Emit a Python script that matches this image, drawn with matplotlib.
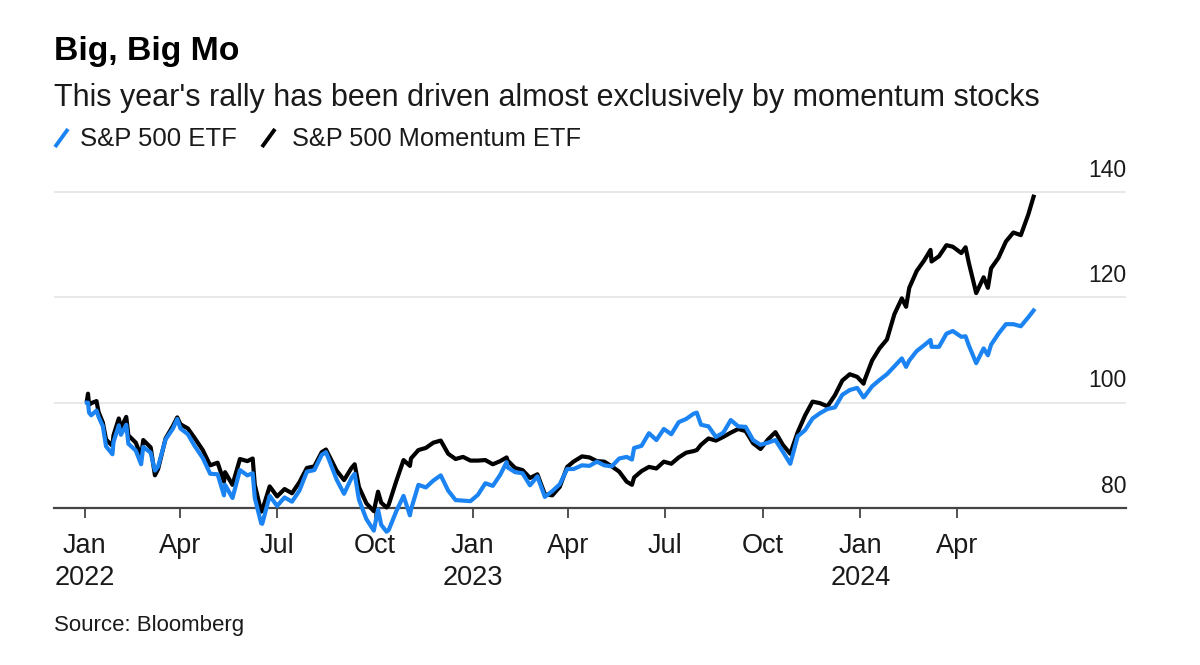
import matplotlib
matplotlib.use("Agg")
import matplotlib.pyplot as plt
from matplotlib.lines import Line2D
import pandas as pd

plt.rcParams['font.family'] = ['Liberation Sans', 'DejaVu Sans']

# ---------------- data ----------------
dates = [
    "2022-01-03", "2022-01-04", "2022-01-05", "2022-01-07", "2022-01-12", "2022-01-14",
    "2022-01-18", "2022-01-21", "2022-01-27", "2022-01-28", "2022-02-02", "2022-02-04",
    "2022-02-09", "2022-02-11", "2022-02-18", "2022-02-23", "2022-02-25", "2022-03-04",
    "2022-03-08", "2022-03-11", "2022-03-18", "2022-03-25", "2022-03-29", "2022-04-01",
    "2022-04-08", "2022-04-14", "2022-04-22", "2022-04-29", "2022-05-06", "2022-05-12",
    "2022-05-13", "2022-05-20", "2022-05-27", "2022-06-03", "2022-06-08", "2022-06-10",
    "2022-06-16", "2022-06-17", "2022-06-24", "2022-07-01", "2022-07-08", "2022-07-15",
    "2022-07-22", "2022-07-29", "2022-08-05", "2022-08-12", "2022-08-16", "2022-08-19",
    "2022-08-26", "2022-09-02", "2022-09-09", "2022-09-12", "2022-09-16", "2022-09-23",
    "2022-09-30", "2022-10-04", "2022-10-07", "2022-10-12", "2022-10-14", "2022-10-21",
    "2022-10-28", "2022-11-03", "2022-11-04", "2022-11-11", "2022-11-18", "2022-11-25",
    "2022-12-02", "2022-12-09", "2022-12-16", "2022-12-23", "2022-12-30",
    "2023-01-06", "2023-01-13", "2023-01-20", "2023-01-27", "2023-02-02", "2023-02-03",
    "2023-02-10", "2023-02-17", "2023-02-24", "2023-03-03", "2023-03-10", "2023-03-17",
    "2023-03-24", "2023-03-31", "2023-04-06", "2023-04-14", "2023-04-21", "2023-04-28",
    "2023-05-05", "2023-05-12", "2023-05-19", "2023-05-26", "2023-05-31", "2023-06-02",
    "2023-06-09", "2023-06-16", "2023-06-23", "2023-06-30", "2023-07-07", "2023-07-14",
    "2023-07-21", "2023-07-28", "2023-07-31", "2023-08-04", "2023-08-11", "2023-08-18",
    "2023-08-25", "2023-09-01", "2023-09-08", "2023-09-15", "2023-09-22", "2023-09-29",
    "2023-10-06", "2023-10-13", "2023-10-20", "2023-10-27", "2023-11-03", "2023-11-10",
    "2023-11-17", "2023-11-24", "2023-12-01", "2023-12-08", "2023-12-15", "2023-12-22",
    "2023-12-29",
    "2024-01-04", "2024-01-05", "2024-01-12", "2024-01-19", "2024-01-26", "2024-02-02",
    "2024-02-09", "2024-02-13", "2024-02-16", "2024-02-23", "2024-03-01", "2024-03-07",
    "2024-03-08", "2024-03-15", "2024-03-22", "2024-03-28", "2024-04-05", "2024-04-09",
    "2024-04-12", "2024-04-19", "2024-04-26", "2024-04-30", "2024-05-03", "2024-05-10",
    "2024-05-17", "2024-05-24", "2024-05-31", "2024-06-07", "2024-06-12",
]

sp500_etf = [
    100.0, 100.0, 98.1, 97.6, 98.5, 97.3,
    95.5, 91.7, 90.2, 92.5, 95.7, 93.9,
    95.8, 92.2, 90.9, 88.3, 91.6, 90.5,
    87.1, 87.9, 93.0, 95.1, 96.9, 95.1,
    94.0, 91.9, 89.5, 86.5, 86.4, 82.4,
    84.4, 81.9, 87.2, 86.2, 86.6, 81.9,
    77.1, 77.0, 82.3, 80.4, 82.0, 81.2,
    83.3, 86.9, 87.2, 90.1, 90.6, 89.1,
    85.4, 82.7, 85.7, 86.5, 81.6, 77.9,
    75.7, 79.7, 76.8, 75.5, 75.8, 79.3,
    82.3, 78.6, 79.7, 84.4, 83.9, 85.2,
    86.2, 83.3, 81.5, 81.4, 81.3,
    82.5, 84.7, 84.2, 86.3, 88.7, 87.7,
    86.8, 86.6, 84.3, 86.0, 82.1, 83.2,
    84.5, 87.4, 87.4, 88.1, 88.0, 88.8,
    88.1, 87.9, 89.4, 89.7, 89.2, 91.4,
    91.8, 94.2, 92.9, 95.0, 94.0, 96.3,
    96.9, 97.9, 98.1, 95.8, 95.5, 93.5,
    94.3, 96.7, 95.5, 95.4, 92.9, 92.0,
    92.4, 92.9, 90.7, 88.4, 93.6, 94.8,
    97.0, 98.0, 98.8, 99.1, 101.5, 102.4,
    102.8,
    101.0, 101.2, 103.1, 104.3, 105.4, 106.9,
    108.4, 106.8, 108.0, 109.8, 110.9, 111.9,
    110.6, 110.6, 113.1, 113.6, 112.5, 112.6,
    110.9, 107.5, 110.3, 109.0, 111.0, 113.1,
    114.9, 114.9, 114.5, 116.2, 117.5,
]

sp500_momentum_etf = [
    100.4, 101.7, 99.6, 99.9, 100.3, 98.2,
    96.2, 93.0, 91.8, 93.8, 97.0, 95.2,
    97.3, 93.8, 92.4, 89.8, 92.9, 91.5,
    86.2, 87.4, 93.2, 95.6, 97.2, 95.9,
    95.1, 93.4, 91.0, 88.1, 88.6, 85.0,
    86.8, 84.4, 89.3, 88.9, 89.4, 84.4,
    79.3, 79.6, 84.1, 82.2, 83.6, 82.8,
    84.9, 87.6, 87.9, 90.6, 91.1, 89.9,
    87.1, 85.3, 87.6, 88.3, 84.0, 80.9,
    79.4, 83.1, 81.0, 80.1, 80.6, 85.0,
    89.1, 88.0, 89.4, 91.0, 91.4, 92.4,
    92.8, 90.3, 89.3, 89.7, 89.0,
    89.0, 89.1, 88.3, 88.9, 89.6, 89.0,
    87.6, 87.2, 85.7, 86.4, 82.6, 82.4,
    84.0, 87.8, 88.8, 89.8, 89.6, 88.9,
    88.8, 87.9, 86.9, 85.0, 84.4, 85.8,
    87.0, 87.8, 87.5, 88.8, 88.4, 89.6,
    90.5, 90.8, 91.0, 92.0, 93.2, 92.8,
    93.5, 94.3, 95.0, 94.6, 92.3, 91.2,
    93.0, 94.4, 92.0, 90.3, 94.4, 97.6,
    100.2, 99.9, 99.3, 101.4, 104.2, 105.4,
    104.9,
    103.6, 104.3, 108.0, 110.3, 112.0, 116.8,
    119.8, 118.2, 121.8, 125.0, 127.0, 129.0,
    126.8, 127.8, 129.9, 129.6, 128.4, 129.5,
    126.6, 120.8, 123.8, 121.8, 125.5, 127.5,
    130.6, 132.3, 131.8, 135.7, 139.1,
]

y_ticks = [80, 100, 120, 140]
x_tick_dates = ["2022-01-01", "2022-04-01", "2022-07-01", "2022-10-01",
                "2023-01-01", "2023-04-01", "2023-07-01", "2023-10-01",
                "2024-01-01", "2024-04-01"]
x_tick_labels = ["Jan\n2022", "Apr", "Jul", "Oct",
                 "Jan\n2023", "Apr", "Jul", "Oct",
                 "Jan\n2024", "Apr"]
series_names = ["S&P 500 ETF", "S&P 500 Momentum ETF"]

title = "Big, Big Mo"
subtitle = "This year's rally has been driven almost exclusively by momentum stocks"
source = "Source: Bloomberg"

BLUE = "#1b84f2"
BLACK = "#000000"
TEXT = "#1a1a1a"

# ---------------- figure ----------------
W, H = 1200, 665
fig = plt.figure(figsize=(W / 100, H / 100), dpi=100)
fig.patch.set_facecolor("white")

ax = fig.add_axes([54 / W, 1 - 539.6 / H, (1126 - 54) / W, (539.6 - 186.7) / H])
x = pd.to_datetime(dates)
ax.plot(x, sp500_momentum_etf, color=BLACK, lw=3.0, zorder=3, solid_joinstyle="round")
ax.plot(x, sp500_etf, color=BLUE, lw=3.0, zorder=4, solid_joinstyle="round")

ax.set_ylim(74, 141)
ax.set_xlim(pd.Timestamp("2021-12-03"), pd.Timestamp("2024-09-07"))

for s in ["top", "right", "left"]:
    ax.spines[s].set_visible(False)
ax.spines["bottom"].set_position(("data", 80))
ax.spines["bottom"].set_color("#444444")
ax.spines["bottom"].set_linewidth(1.6)
ax.spines["bottom"].set_zorder(2.5)

ax.set_yticks(y_ticks)
ax.yaxis.grid(True, color="#e8e8e8", lw=1.4)
ax.set_axisbelow(True)
ax.tick_params(axis="y", length=0, labelleft=False, labelright=False)
for v in y_ticks:
    ax.annotate(str(v), xy=(1.0, v), xycoords=("axes fraction", "data"),
                xytext=(0, 11), textcoords="offset points",
                ha="right", va="baseline", fontsize=16.5, color=TEXT)

ax.set_xticks(pd.to_datetime(x_tick_dates))
ax.set_xticklabels(x_tick_labels, fontsize=19.5, linespacing=1.3, color=TEXT)
ax.tick_params(axis="x", length=7, width=1.3, color="#444444", pad=11)

# ---------------- titles ----------------
fig.text(54 / W, 1 - 60 / H, title, fontsize=24.3, fontweight="bold", color="#000000",
         ha="left", va="baseline")
fig.text(54 / W, 1 - 106 / H, subtitle, fontsize=22, color=TEXT, ha="left", va="baseline")

# legend
fig.add_artist(Line2D([55 / W, 68 / W], [1 - 147 / H, 1 - 129 / H], color=BLUE, lw=2.8,
                      transform=fig.transFigure, solid_capstyle="butt"))
fig.text(80 / W, 1 - 146 / H, series_names[0], fontsize=18.5, color=TEXT, ha="left", va="baseline")
fig.add_artist(Line2D([262 / W, 275 / W], [1 - 147 / H, 1 - 129 / H], color=BLACK, lw=2.8,
                      transform=fig.transFigure, solid_capstyle="butt"))
fig.text(292 / W, 1 - 146 / H, series_names[1], fontsize=18.3, color=TEXT, ha="left", va="baseline")

fig.text(54 / W, 1 - 631 / H, source, fontsize=16, color=TEXT, ha="left", va="baseline")

fig.savefig("out.png", dpi=100, facecolor="white")
